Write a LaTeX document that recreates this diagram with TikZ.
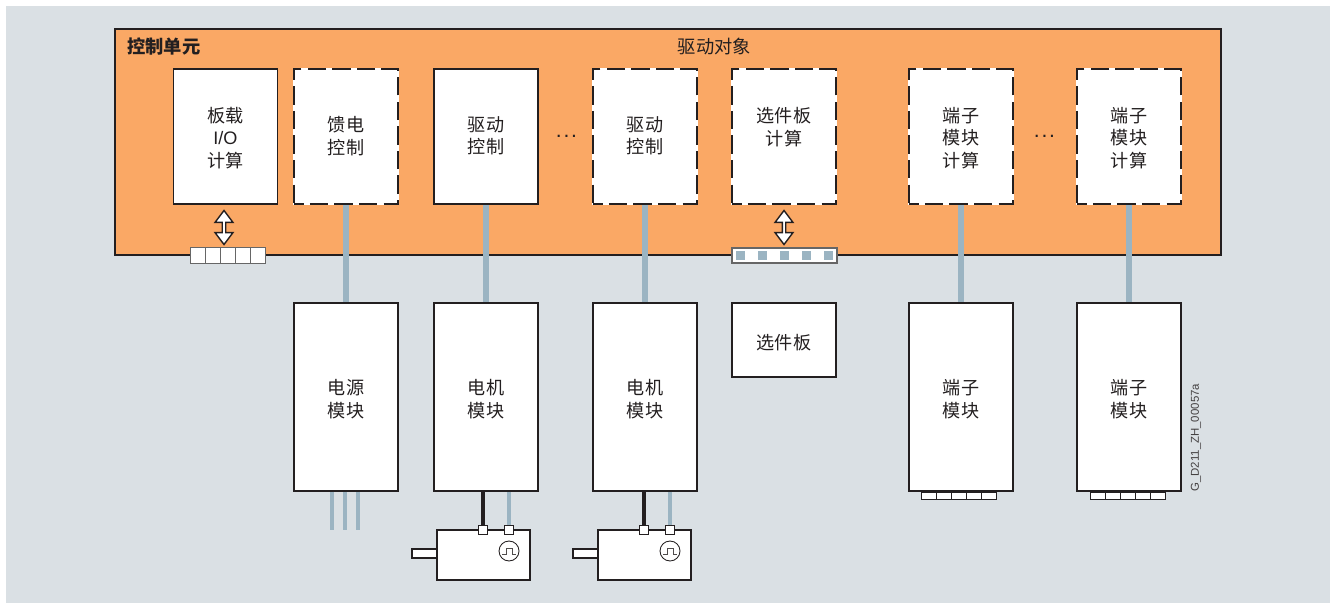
\documentclass[tikz,border=0pt]{standalone}
\usepackage{fontspec}
\setmainfont{Noto Sans CJK SC}
\newfontfamily\codefont{Liberation Sans}
\usetikzlibrary{shapes.arrows}
\definecolor{panelgray}{HTML}{DAE0E4}
\definecolor{unitorange}{HTML}{FAA865}
\definecolor{busblue}{HTML}{9BB4C2}
\definecolor{inkblack}{HTML}{231F20}
\tikzset{
  box/.style={draw=inkblack,line width=1.1pt,fill=white,inner sep=0pt,minimum width=2.08cm},
  calcbox/.style={box,minimum height=2.7cm},
  dashbox/.style={calcbox,draw=none,postaction={draw=white,line width=1.1pt},
    postaction={draw=inkblack,line width=1.1pt,dash pattern=on 10.5pt off 3.5pt,dash phase=5pt}},
  modbox/.style={box,minimum height=3.76cm},
  lbl/.style={text=inkblack,inner sep=0pt,align=center,font=\fontsize{10.3}{12.8}\selectfont},
  dotlbl/.style={lbl,font=\fontsize{12}{12}\codefont},
  cell/.style={draw=#1,fill=white,line width=.5pt,minimum width=.3cm,inner sep=0pt},
  busline/.style={draw=busblue,line width=2.9pt},
  motorline/.style={draw=inkblack,line width=2.5pt},
  thinbus/.style={draw=busblue,line width=2.3pt},
  port/.style={draw=inkblack,fill=white,line width=.7pt,minimum size=.18cm,inner sep=0pt},
  twoway/.style={draw=inkblack,fill=white,line width=.8pt,shape=double arrow,rotate=90,inner sep=0pt,
    minimum height=.68cm,minimum width=.36cm,double arrow head extend=.06cm,double arrow tip angle=74}
}
\begin{document}
\begin{tikzpicture}[x=.02cm,y=-.02cm]
\useasboundingbox (0,0) rectangle (1332,604);
\fill[panelgray] (6,6) rectangle (1330,603);
% control unit
\node[draw=inkblack,line width=1.1pt,fill=unitorange,minimum width=22.12cm,minimum height=4.52cm,inner sep=0pt] (cu) at (668,142) {};
\node[lbl,anchor=west,font=\fontsize{10.4}{13}\selectfont\bfseries] (cutitle) at (127,47) {控制单元};
\node[lbl,font=\fontsize{10.4}{13}\selectfont] (dotitle) at (714.5,47) {驱动对象};
\node[calcbox] (onboard) at (225.5,136.5) {};
\node[lbl] (onboardtxt) at (225.5,138) {板载\\{\codefont I/O}\\计算};
\node[dashbox] (feedctl) at (346,136.5) {};
\node[lbl] (feedtxt) at (346,136) {馈电\\控制};
\node[calcbox] (drvctla) at (486,136.5) {};
\node[lbl] (drvtxta) at (486,136) {驱动\\控制};
\node[dotlbl] (dotsa) at (566.5,136) {.\kern1pt.\kern1pt.};
\node[dashbox] (drvctlb) at (645,136.5) {};
\node[lbl] (drvtxtb) at (645,136) {驱动\\控制};
\node[dashbox] (optcalc) at (784,136.5) {};
\node[lbl] (opttxt) at (784,127) {选件板\\计算};
\node[dashbox] (termcalca) at (961,136.5) {};
\node[lbl] (termtxta) at (961,138) {端子\\模块\\计算};
\node[dotlbl] (dotsb) at (1044.5,136) {.\kern1pt.\kern1pt.};
\node[dashbox] (termcalcb) at (1129,136.5) {};
\node[lbl] (termtxtb) at (1129,138) {端子\\模块\\计算};
% modules
\node[modbox] (psu) at (346,397) {};
\node[lbl] (psutxt) at (346,399) {电源\\模块};
\node[modbox] (mma) at (486,397) {};
\node[lbl] (mmatxt) at (486,399) {电机\\模块};
\node[modbox] (mmb) at (645,397) {};
\node[lbl] (mmbtxt) at (645,399) {电机\\模块};
\node[box,minimum height=1.48cm] (optboard) at (784,340) {};
\node[lbl] (optboardtxt) at (784,342.5) {选件板};
\node[modbox] (terma) at (961,397) {};
\node[lbl] (termatxt) at (961,399) {端子\\模块};
\node[modbox] (termb) at (1129,397) {};
\node[lbl] (termbtxt) at (1129,399) {端子\\模块};
\draw[busline] (feedctl.south)--(psu.north);
\draw[busline] (drvctla.south)--(mma.north);
\draw[busline] (drvctlb.south)--(mmb.north);
\draw[busline] (termcalca.south)--(terma.north);
\draw[busline] (termcalcb.south)--(termb.north);
% onboard and option slots
\foreach \i in {0,...,4}
  \node[cell=gray!80!black,minimum height=.32cm] (slot\i) at (197.5+15*\i,255) {};
\foreach \i in {0,...,4}
  \node[cell=inkblack,minimum height=.16cm,anchor=north] (tca\i) at (928.5+15*\i,491.5) {};
\foreach \i in {0,...,4}
  \node[cell=inkblack,minimum height=.16cm,anchor=north] (tcb\i) at (1097.5+15*\i,491.5) {};
\node[draw=gray!80!black,fill=white,line width=.7pt,minimum width=2.1cm,minimum height=.3cm,inner sep=0pt] (optslot) at (784.5,255.5) {};
\foreach \i in {0,...,4}
  \fill[busblue] (740+22*\i-4.5,255.5-4.5) rectangle +(9,9);
\node[twoway] (arra) at (224,227.5) {};
\node[twoway] (arrb) at (784,227.5) {};
% power lines
\coordinate (lineL) at (332,530);
\coordinate (lineM) at (345,530);
\coordinate (lineR) at (358,530);
\draw[thinbus] (psu.south -| lineL)--(lineL);
\draw[thinbus] (psu.south -| lineM)--(lineM);
\draw[thinbus] (psu.south -| lineR)--(lineR);
% motors
\foreach \m/\dx in {a/0,b/161}{
  \node[draw=inkblack,fill=white,line width=1.1pt,minimum width=.5cm,minimum height=.18cm,inner sep=0pt] (shaft\m) at (424.5+\dx,553.5) {};
  \node[draw=inkblack,fill=white,line width=1.1pt,minimum width=1.86cm,minimum height=1cm,inner sep=0pt] (motor\m) at (483.5+\dx,555) {};
  \node[port] (pw\m) at (483+\dx,530) {};
  \node[port] (en\m) at (509+\dx,530) {};
  \draw[motorline] (mm\m.south -| pw\m)--(pw\m.north);
  \draw[busline,line width=2.3pt] (mm\m.south -| en\m)--(en\m.north);
  \node[draw=inkblack,line width=.5pt,circle,minimum size=.4cm,inner sep=0pt] (enc\m) at (509+\dx,551) {};
  \draw[inkblack!80,line width=.45pt] (502+\dx,554)--(506+\dx,554)--(506+\dx,548)--(512+\dx,548)--(512+\dx,554)--(516+\dx,554);
}
\node[text=inkblack!85,inner sep=0pt,rotate=90,anchor=west,font=\fontsize{6.5}{8}\codefont] (code) at (1196,492) {G\_D211\_ZH\_00057a};
\end{tikzpicture}
\end{document}
